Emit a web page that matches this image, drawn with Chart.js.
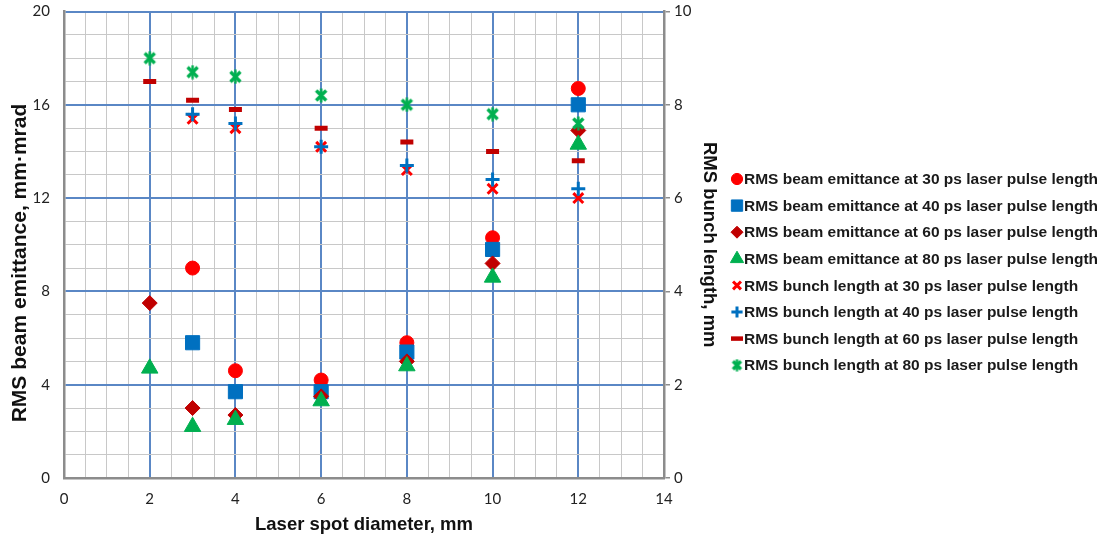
<!DOCTYPE html>
<html>
<head>
<meta charset="utf-8">
<script src="https://cdn.jsdelivr.net/npm/chart.js@4.4.1/dist/chart.umd.min.js"></script>
<style>
  html, body { margin: 0; padding: 0; background: #fff; }
  #wrap { width: 1102px; height: 538px; position: relative; }
</style>
</head>
<body>
<div id="wrap"><canvas id="grafico"></canvas></div>
<script>
// datos
const diametros = [2, 3, 4, 6, 8, 10, 12];

// emitancia (eje izquierdo, mm·mrad)
const emit30 = [null, 9.0, 4.6, 4.2, 5.8, 10.3, 16.7];
const emit40 = [null, 5.8, 3.7, 3.7, 5.4, 9.8, 16.0];
const emit60 = [7.5, 3.0, 2.7, 3.5, 5.0, 9.2, 14.9];
const emit80 = [4.7, 2.2, 2.5, 3.3, 4.8, 8.6, 14.3];

// longitud del bunch (eje derecho, mm)
const bunch30 = [null, 7.7, 7.5, 7.1, 6.6, 6.2, 6.0];
const bunch40 = [null, 7.8, 7.6, 7.1, 6.7, 6.4, 6.2];
const bunch60 = [8.5, 8.1, 7.9, 7.5, 7.2, 7.0, 6.8];
const bunch80 = [9.0, 8.7, 8.6, 8.2, 8.0, 7.8, 7.6];

const etiquetas = [
  "RMS beam emittance at 30 ps laser pulse length",
  "RMS beam emittance at 40 ps laser pulse length",
  "RMS beam emittance at 60 ps laser pulse length",
  "RMS beam emittance at 80 ps laser pulse length",
  "RMS bunch length at 30 ps laser pulse length",
  "RMS bunch length at 40 ps laser pulse length",
  "RMS bunch length at 60 ps laser pulse length",
  "RMS bunch length at 80 ps laser pulse length",
];

const tituloIzq = "RMS beam emittance, mm·mrad";

const AZUL_GRID = "#5A87C5";
const GRIS_GRID = "#C8C8C8";
const familiaTitulo = "'Liberation Sans', Arial, sans-serif";

// marcador tipo "estrella" de Excel (X + línea vertical)
function crearEstrella(tam, color) {
  const c = document.createElement("canvas");
  c.width = tam;
  c.height = tam;
  const g = c.getContext("2d");
  g.strokeStyle = color;
  g.lineWidth = 3.4;
  g.lineCap = "butt";
  const m = 2.5, f = tam - 2.5, mid = tam / 2;
  g.beginPath();
  g.moveTo(m, m); g.lineTo(f, f);
  g.moveTo(f, m); g.lineTo(m, f);
  g.stroke();
  g.lineWidth = 2.4;
  g.beginPath();
  g.moveTo(mid, 0.5); g.lineTo(mid, tam - 0.5);
  g.stroke();
  return c;
}
const estrella = crearEstrella(15, "#00B050");
const estrellaLeyenda = crearEstrella(13, "#00B050");

function puntos(valores) {
  return diametros.map((d, i) => ({ x: d, y: valores[i] }));
}

const series = [
  { data: emit30, eje: "y", estilo: "circle", radio: 7, color: "#FF0000", borde: 1 },
  { data: emit40, eje: "y", estilo: "rect", radio: 10, color: "#0070C0", borde: 1 },
  { data: emit60, eje: "y", estilo: "rectRot", radio: 7.5, color: "#C00000", borde: 1 },
  { data: emit80, eje: "y", estilo: "triangle", radio: 9.5, color: "#00B050", borde: 1 },
  { data: bunch30, eje: "y2", estilo: "crossRot", radio: 7, color: "#FF0000", borde: 3 },
  { data: bunch40, eje: "y2", estilo: "cross", radio: 7, color: "#0070C0", borde: 3 },
  { data: bunch60, eje: "y2", estilo: "line", radio: 6.5, color: "#C00000", borde: 5 },
  { data: bunch80, eje: "y2", estilo: estrella, radio: 7, color: "#00B050", borde: 1 },
];

const datasets = series.map((s, i) => ({
  label: etiquetas[i],
  data: puntos(s.data),
  yAxisID: s.eje,
  pointStyle: s.estilo,
  pointRadius: s.radio,
  pointHoverRadius: s.radio,
  pointBackgroundColor: s.color,
  pointBorderColor: s.color,
  pointBorderWidth: s.borde,
  showLine: false,
  order: series.length - 1 - i,
}));

// leyenda y título izquierdo dibujados a mano
const leyendaPlugin = {
  id: "leyendaDerecha",
  afterDraw(chart) {
    const ctx = chart.ctx;
    const x0 = 737;
    const y0 = 179;
    const paso = 26.6;
    ctx.save();
    ctx.font = "bold 15.5px " + familiaTitulo;
    ctx.textBaseline = "middle";
    series.forEach((s, i) => {
      const y = y0 + i * paso;
      ctx.fillStyle = s.color;
      ctx.strokeStyle = s.color;
      let est = i === 7 ? estrellaLeyenda : s.estilo;
      let r = s.radio * 0.8;
      let bw = s.borde;
      if (i === 4 || i === 5) bw = 3;
      if (i === 6) { bw = 4.5; r = 6; }
      ctx.lineWidth = bw;
      Chart.helpers.drawPoint(ctx, { pointStyle: est, radius: r, rotation: 0, borderWidth: bw }, x0, y);
      ctx.fillStyle = "#1a1a1a";
      ctx.fillText(etiquetas[i], x0 + 7, y + 1);
    });

    // título del eje izquierdo (algo por debajo del centro, como en el original)
    ctx.translate(20, 263);
    ctx.rotate(-Math.PI / 2);
    ctx.font = "bold 21px " + familiaTitulo;
    ctx.textAlign = "center";
    ctx.fillStyle = "#111";
    ctx.fillText(tituloIzq, 0, 0);
    ctx.restore();
  },
};

const fuenteTicks = { family: "Lato, 'Open Sans', sans-serif", size: 15, lineHeight: 1 };

new Chart(document.getElementById("grafico").getContext("2d"), {
  type: "scatter",
  data: { datasets },
  plugins: [leyendaPlugin],
  options: {
    responsive: true,
    maintainAspectRatio: false,
    animation: false,
    layout: { padding: { top: 11, right: 382, left: 0, bottom: 0 } },
    plugins: {
      legend: { display: false },
      tooltip: { enabled: false },
    },
    scales: {
      x: {
        type: "linear",
        min: 0,
        max: 14,
        afterFit: (s) => { s.height = 60; },
        ticks: {
          stepSize: 0.5,
          autoSkip: false,
          maxRotation: 0,
          color: "#222",
          font: fuenteTicks,
          padding: 13.5,
          callback: (v) => (v % 2 === 0 ? v : ""),
        },
        grid: {
          drawTicks: false,
          color: (c) => (c.tick && c.tick.value % 2 === 0 ? AZUL_GRID : GRIS_GRID),
          lineWidth: (c) => (c.tick && c.tick.value % 2 === 0 ? 2 : 1),
        },
        border: { color: "#8C8C8C", width: 2.5 },
        title: {
          display: true,
          text: "Laser spot diameter, mm",
          color: "#111",
          font: { family: familiaTitulo, size: 18.5, weight: "bold" },
          padding: { top: 0, bottom: 2 },
        },
      },
      y: {
        type: "linear",
        position: "left",
        min: 0,
        max: 20,
        afterFit: (s) => { s.width = 64; },
        ticks: {
          stepSize: 1,
          autoSkip: false,
          color: "#222",
          font: fuenteTicks,
          padding: 2,
          callback: (v) => (v % 4 === 0 ? v : ""),
        },
        grid: {
          drawTicks: true,
          tickLength: 12,
          tickColor: "rgba(0,0,0,0)",
          color: (c) => (c.tick && c.tick.value % 4 === 0 ? AZUL_GRID : GRIS_GRID),
          lineWidth: (c) => (c.tick && c.tick.value % 4 === 0 ? 2 : 1),
        },
        border: { color: "#8C8C8C", width: 2.5 },
      },
      y2: {
        type: "linear",
        position: "right",
        min: 0,
        max: 10,
        afterFit: (s) => { s.width = 56; },
        ticks: {
          stepSize: 2,
          color: "#222",
          font: fuenteTicks,
          padding: 4,
        },
        grid: {
          drawOnChartArea: false,
          drawTicks: true,
          tickLength: 6,
          color: "#8C8C8C",
          lineWidth: 1.5,
        },
        border: { color: "#8C8C8C", width: 2.5 },
        title: {
          display: true,
          text: "RMS bunch length, mm",
          color: "#111",
          font: { family: familiaTitulo, size: 18.5, weight: "bold" },
          padding: { top: 0, bottom: 0 },
        },
      },
    },
  },
});
</script>
</body>
</html>
